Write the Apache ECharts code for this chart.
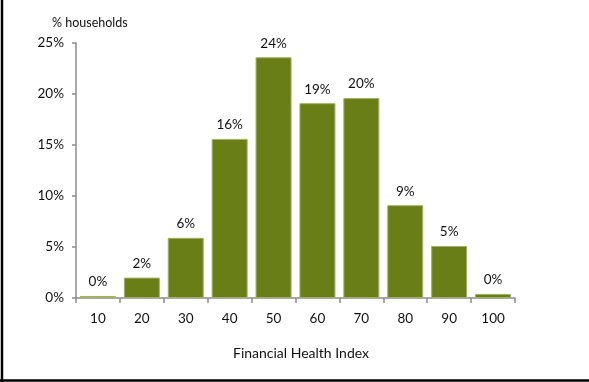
<!DOCTYPE html>
<html>
<head>
<meta charset="utf-8">
<script src="https://cdn.jsdelivr.net/npm/echarts@6/dist/echarts.min.js"></script>
<style>html,body{margin:0;padding:0;background:#fff}#c{width:589px;height:382px}</style>
</head>
<body>
<div id="c"></div>
<script>
const categories = ['10','20','30','40','50','60','70','80','90','100'];
const households = [0.2, 2.0, 5.9, 15.6, 23.6, 19.1, 19.6, 9.1, 5.1, 0.4];
const yTicks = [0, 5, 10, 15, 20, 25];

const chart = echarts.init(document.getElementById('c'), null, {renderer: 'canvas'});
const font = 'Lato, "Open Sans", sans-serif';
chart.setOption({
  animation: false,
  backgroundColor: '#fff',
  grid: {left: 76, right: 74, top: 43, bottom: 84, containLabel: false},
  xAxis: {
    type: 'category',
    data: categories,
    name: 'Financial Health Index',
    nameLocation: 'middle',
    nameGap: 48,
    nameTextStyle: {fontFamily: font, fontSize: 14, color: '#111', padding: [0,0,0,11]},
    axisLine: {lineStyle: {color: '#8c8c8c', width: 1.5}},
    axisTick: {show: true, length: 5, lineStyle: {color: '#8c8c8c', width: 1.5}},
    axisLabel: {fontFamily: font, fontSize: 13.5, color: '#111', margin: 14}
  },
  yAxis: {
    type: 'value',
    min: yTicks[0],
    max: yTicks[yTicks.length - 1],
    interval: 5,
    splitLine: {show: false},
    axisLine: {show: true, lineStyle: {color: '#8c8c8c', width: 1.5}},
    axisTick: {show: true, length: 4, lineStyle: {color: '#8c8c8c', width: 1.5}},
    axisLabel: {fontFamily: font, fontSize: 13.5, color: '#111', margin: 12, formatter: '{value}%'}
  },
  series: [{
    type: 'bar',
    data: households,
    barCategoryGap: '18%',
    itemStyle: {color: '#6a7e17', borderColor: '#a3b35f', borderWidth: 1},
    label: {
      show: true,
      position: 'top',
      distance: 7,
      fontFamily: font,
      fontSize: 13.5,
      color: '#111',
      formatter: p => Math.round(p.value) + '%'
    }
  }],
  graphic: [
    {type: 'text', left: 52, top: 16, style: {text: '% households', font: '12.5px ' + font, fill: '#111'}},
    {type: 'line', shape: {x1: 2, y1: 0, x2: 2, y2: 382}, style: {stroke: '#000', lineWidth: 2.5}},
    {type: 'line', shape: {x1: 0, y1: 380.5, x2: 589, y2: 380.5}, style: {stroke: '#000', lineWidth: 2.5}}
  ]
});
</script>
</body>
</html>
